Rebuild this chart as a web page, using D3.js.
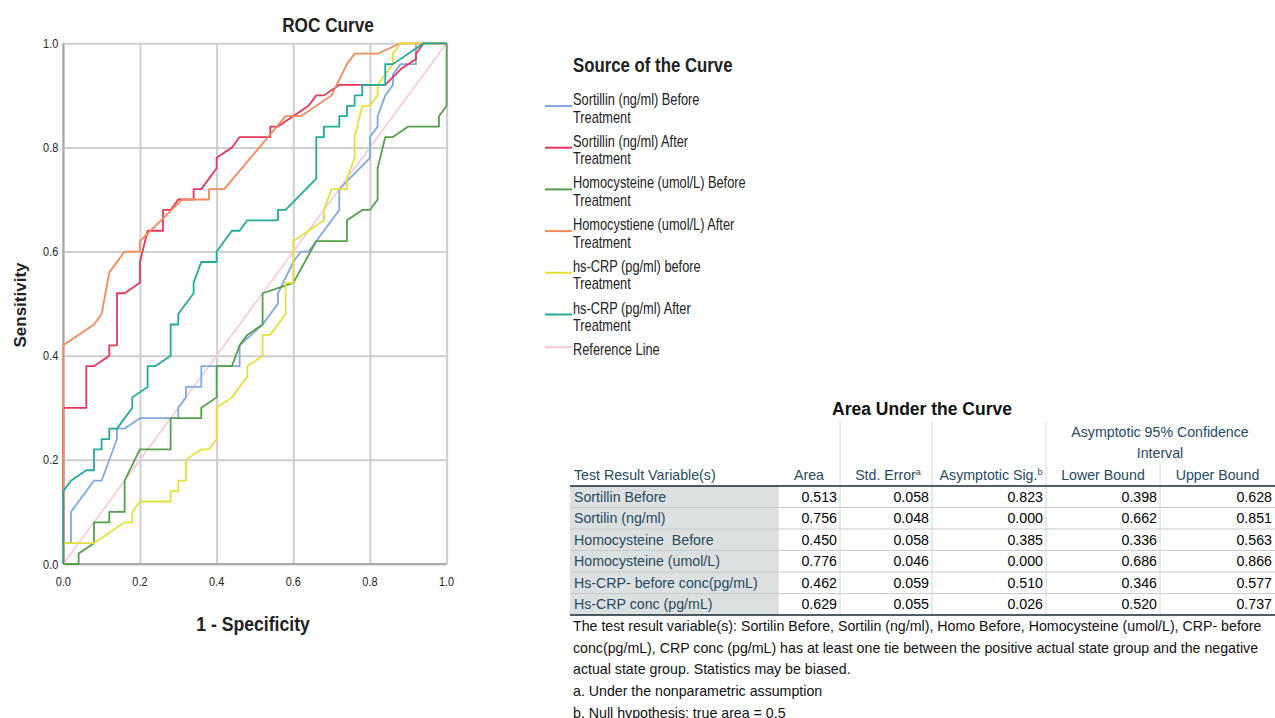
<!DOCTYPE html>
<html>
<head>
<meta charset="utf-8">
<script src="https://cdn.jsdelivr.net/npm/d3@7"></script>
<style>
  body { margin: 0; background: #fff; }
  svg { display: block; font-family: "Liberation Sans", Arial, sans-serif; }
  text { white-space: pre; }
</style>
</head>
<body>
<svg width="1275" height="718"></svg>
<script>
// ROC curve points, [1 - specificity, sensitivity]
const sortillinBefore = [[0,0],[0,0.04],[0.02,0.04],[0.02,0.10],[0.08,0.16],[0.10,0.16],[0.14,0.24],[0.14,0.26],[0.16,0.26],[0.20,0.28],[0.30,0.28],[0.30,0.30],[0.32,0.32],[0.32,0.34],[0.36,0.34],[0.36,0.38],[0.46,0.38],[0.46,0.42],[0.52,0.46],[0.56,0.50],[0.56,0.52],[0.60,0.58],[0.62,0.60],[0.64,0.60],[0.72,0.68],[0.72,0.72],[0.80,0.78],[0.80,0.82],[0.82,0.84],[0.82,0.86],[0.84,0.90],[0.86,0.92],[0.86,0.94],[0.88,0.96],[0.92,0.96],[0.92,1.0],[1,1]]
const sortillinAfter = [[0,0],[0,0.30],[0.06,0.30],[0.06,0.38],[0.08,0.38],[0.12,0.40],[0.12,0.42],[0.14,0.42],[0.14,0.52],[0.16,0.52],[0.20,0.54],[0.20,0.58],[0.22,0.64],[0.26,0.64],[0.26,0.68],[0.28,0.68],[0.30,0.70],[0.34,0.70],[0.34,0.72],[0.36,0.72],[0.40,0.76],[0.40,0.78],[0.44,0.80],[0.46,0.82],[0.54,0.82],[0.54,0.84],[0.56,0.84],[0.64,0.88],[0.66,0.90],[0.68,0.90],[0.72,0.92],[0.84,0.92],[0.88,0.95],[0.92,0.97],[0.92,0.98],[0.94,1.0],[1,1]]
const homoBefore = [[0,0],[0.04,0],[0.04,0.02],[0.08,0.04],[0.08,0.08],[0.12,0.08],[0.12,0.10],[0.16,0.10],[0.16,0.16],[0.20,0.22],[0.28,0.22],[0.28,0.28],[0.36,0.28],[0.36,0.30],[0.40,0.32],[0.40,0.38],[0.44,0.38],[0.46,0.42],[0.48,0.44],[0.52,0.46],[0.52,0.52],[0.56,0.53],[0.60,0.54],[0.66,0.62],[0.74,0.62],[0.74,0.66],[0.78,0.68],[0.80,0.68],[0.82,0.70],[0.82,0.76],[0.84,0.82],[0.86,0.82],[0.90,0.84],[0.98,0.84],[0.98,0.86],[1.0,0.88],[1.0,1.0]]
const homoAfter = [[0,0],[0,0.42],[0.08,0.46],[0.10,0.48],[0.12,0.56],[0.16,0.60],[0.20,0.60],[0.20,0.62],[0.31,0.70],[0.38,0.70],[0.38,0.72],[0.42,0.72],[0.58,0.86],[0.62,0.86],[0.70,0.90],[0.74,0.96],[0.76,0.98],[0.82,0.98],[0.88,1.0],[1,1]]
const crpBefore = [[0,0],[0,0.04],[0.08,0.04],[0.16,0.08],[0.18,0.08],[0.18,0.10],[0.20,0.12],[0.28,0.12],[0.28,0.14],[0.30,0.14],[0.30,0.16],[0.32,0.16],[0.32,0.20],[0.36,0.22],[0.38,0.22],[0.40,0.24],[0.40,0.30],[0.44,0.32],[0.48,0.36],[0.48,0.38],[0.52,0.40],[0.52,0.44],[0.54,0.44],[0.58,0.48],[0.58,0.54],[0.60,0.54],[0.60,0.62],[0.64,0.64],[0.68,0.66],[0.68,0.68],[0.70,0.72],[0.74,0.72],[0.74,0.74],[0.76,0.78],[0.76,0.82],[0.78,0.88],[0.80,0.88],[0.82,0.90],[0.82,0.92],[0.86,0.96],[0.86,0.98],[0.88,1.0],[1,1]]
const crpAfter = [[0,0],[0,0.14],[0.02,0.16],[0.06,0.18],[0.08,0.18],[0.08,0.22],[0.10,0.22],[0.10,0.24],[0.12,0.24],[0.12,0.26],[0.14,0.26],[0.18,0.30],[0.18,0.32],[0.22,0.34],[0.22,0.38],[0.24,0.38],[0.28,0.40],[0.28,0.46],[0.30,0.46],[0.30,0.48],[0.34,0.52],[0.34,0.54],[0.36,0.58],[0.40,0.58],[0.40,0.60],[0.44,0.64],[0.46,0.64],[0.48,0.66],[0.56,0.66],[0.56,0.68],[0.58,0.68],[0.66,0.74],[0.66,0.82],[0.68,0.82],[0.68,0.84],[0.72,0.84],[0.72,0.86],[0.74,0.86],[0.74,0.88],[0.76,0.88],[0.76,0.90],[0.78,0.90],[0.78,0.92],[0.84,0.92],[0.84,0.96],[0.86,0.96],[0.94,1.0],[1,1]]
const referenceLine = [[0,0],[1,1]]

const legendNames = [
  ['Sortillin (ng/ml) Before', 'Treatment'],
  ['Sortillin (ng/ml) After', 'Treatment'],
  ['Homocysteine (umol/L) Before', 'Treatment'],
  ['Homocystiene (umol/L) After', 'Treatment'],
  ['hs-CRP (pg/ml) before', 'Treatment'],
  ['hs-CRP (pg/ml) After', 'Treatment'],
  ['Reference Line']
]
const curveColors = ['#80a8e2', '#e5365c', '#54a04a', '#f5895a', '#e6e03a', '#22aa9c', '#f6c8d8']
const tickValues = [0, 0.2, 0.4, 0.6, 0.8, 1.0]

// AUC table
const tableVars = ['Sortillin Before', 'Sortilin (ng/ml)', 'Homocysteine  Before', 'Homocysteine (umol/L)', 'Hs-CRP- before conc(pg/mL)', 'Hs-CRP conc (pg/mL)']
const aucArea = ['0.513', '0.756', '0.450', '0.776', '0.462', '0.629']
const aucStdErr = ['0.058', '0.048', '0.058', '0.046', '0.059', '0.055']
const aucSig = ['0.823', '0.000', '0.385', '0.000', '0.510', '0.026']
const aucLower = ['0.398', '0.662', '0.336', '0.686', '0.346', '0.520']
const aucUpper = ['0.628', '0.851', '0.563', '0.866', '0.577', '0.737']
const footnotes = [
  'The test result variable(s): Sortilin Before, Sortilin (ng/ml), Homo Before, Homocysteine (umol/L), CRP- before',
  'conc(pg/mL), CRP conc (pg/mL) has at least one tie between the positive actual state group and the negative',
  'actual state group. Statistics may be biased.',
  'a. Under the nonparametric assumption',
  'b. Null hypothesis: true area = 0.5'
]

const svg = d3.select('svg')
const narrow = 0.84

// draws a horizontally condensed label, SPSS chart style
function condensed(parent, x, y, txt, size, weight, anchor, k) {
  return parent.append('text')
    .attr('transform', 'translate(' + x + ',' + y + ') scale(' + (k || narrow) + ',1)')
    .attr('font-size', size)
    .attr('font-weight', weight || 'normal')
    .attr('text-anchor', anchor || 'start')
    .attr('fill', '#222')
    .text(txt)
}

// ---- ROC chart
const x = d3.scaleLinear().domain([0, 1]).range([63.3, 446.6])
const y = d3.scaleLinear().domain([0, 1]).range([564, 43.3])

const plot = svg.append('g')

plot.append('g')
  .attr('transform', 'translate(0,' + y(0) + ')')
  .call(d3.axisBottom(x).tickValues(tickValues).tickSize(-(y(0) - y(1))).tickFormat(''))
  .call(g => g.select('.domain').remove())
  .selectAll('line').attr('stroke', '#cfcfcf').attr('stroke-width', 2)
plot.append('g')
  .attr('transform', 'translate(' + x(0) + ',0)')
  .call(d3.axisLeft(y).tickValues(tickValues).tickSize(-(x(1) - x(0))).tickFormat(''))
  .call(g => g.select('.domain').remove())
  .selectAll('line').attr('stroke', '#cfcfcf').attr('stroke-width', 2)

// axis lines
plot.append('line').attr('x1', x(0)).attr('x2', x(1)).attr('y1', y(0)).attr('y2', y(0))
  .attr('stroke', '#a8a8a8').attr('stroke-width', 2)
plot.append('line').attr('x1', x(0)).attr('x2', x(0)).attr('y1', y(0)).attr('y2', y(1))
  .attr('stroke', '#a8a8a8').attr('stroke-width', 2)

tickValues.forEach(t => {
  condensed(plot, x(0) - 5, y(t) + 4.5, d3.format('.1f')(t), 13, 'normal', 'end')
  condensed(plot, x(t), y(0) + 22, d3.format('.1f')(t), 13, 'normal', 'middle')
})

const line = d3.line().x(d => x(d[0])).y(d => y(d[1]))
const curves = [sortillinBefore, sortillinAfter, homoBefore, homoAfter, crpBefore, crpAfter]

plot.append('path').datum(referenceLine)
  .attr('d', line).attr('fill', 'none')
  .attr('stroke', curveColors[6]).attr('stroke-width', 1.6)

plot.selectAll('.curve')
  .data(curves)
  .enter()
  .append('path')
    .attr('class', 'curve')
    .attr('d', line)
    .attr('fill', 'none')
    .attr('stroke', (d, i) => curveColors[i])
    .attr('stroke-width', 1.8)
    .attr('stroke-linejoin', 'round')

condensed(svg, 328, 32, 'ROC Curve', 20, 'bold', 'middle', 0.86)
condensed(svg, 253, 631, '1 - Specificity', 21, 'bold', 'middle', 0.84)
svg.append('text')
  .attr('transform', 'translate(26,305) rotate(-90)')
  .attr('text-anchor', 'middle')
  .attr('font-size', 17)
  .attr('font-weight', 'bold')
  .attr('fill', '#222')
  .text('Sensitivity')

// ---- legend
const legend = svg.append('g')
condensed(legend, 573, 72, 'Source of the Curve', 20, 'bold', 'start', 0.84)
legendNames.forEach((lines, i) => {
  const base = 105 + i * 41.7
  const ly = lines.length > 1 ? base + 1 : base - 8
  legend.append('line')
    .attr('x1', 545).attr('x2', 572).attr('y1', ly).attr('y2', ly)
    .attr('stroke', curveColors[i]).attr('stroke-width', 2)
  lines.forEach((t, j) => condensed(legend, 573, base + j * 17.5, t, 16, 'normal', 'start', 0.8))
})

// ---- AUC table
const tbl = svg.append('g').attr('font-size', 14.2)
const colEdges = [570, 778, 840, 932, 1046, 1160, 1275]
const headColor = '#264a60'
const rowTop = 486
const rowH = 21.5

tbl.append('text').attr('x', 922).attr('y', 415).attr('text-anchor', 'middle')
  .attr('font-size', 17.5).attr('font-weight', 'bold').attr('fill', '#111')
  .text('Area Under the Curve')

// header separators
;[840, 932, 1046].forEach(cx => tbl.append('line')
  .attr('x1', cx).attr('x2', cx).attr('y1', 421).attr('y2', rowTop)
  .attr('stroke', '#d8d8d8'))
tbl.append('line').attr('x1', 1160).attr('x2', 1160).attr('y1', 464).attr('y2', rowTop).attr('stroke', '#d8d8d8')

tbl.append('text').attr('x', 1160).attr('y', 437).attr('text-anchor', 'middle').attr('fill', headColor).text('Asymptotic 95% Confidence')
tbl.append('text').attr('x', 1160).attr('y', 458).attr('text-anchor', 'middle').attr('fill', headColor).text('Interval')

const headers = ['Area', 'Std. Error', 'Asymptotic Sig.', 'Lower Bound', 'Upper Bound']
const headSup = ['', 'a', 'b', '', '']
tbl.append('text').attr('x', 574).attr('y', 480).attr('fill', headColor).text('Test Result Variable(s)')
headers.forEach((h, i) => {
  const t = tbl.append('text')
    .attr('x', (colEdges[i + 1] + colEdges[i + 2]) / 2 + (headSup[i] ? 2 : 0))
    .attr('y', 480).attr('text-anchor', 'middle').attr('fill', headColor)
  t.append('tspan').text(h)
  if (headSup[i]) t.append('tspan').attr('font-size', 9).attr('dy', -5).text(headSup[i])
})

// body
const rows = tableVars.map((v, i) => [v, aucArea[i], aucStdErr[i], aucSig[i], aucLower[i], aucUpper[i]])
tbl.append('rect').attr('x', colEdges[0]).attr('y', rowTop).attr('width', colEdges[1] - colEdges[0])
  .attr('height', rowH * rows.length).attr('fill', '#dde0e0')

rows.forEach((r, i) => {
  const top = rowTop + i * rowH
  if (i > 0) tbl.append('line').attr('x1', colEdges[0]).attr('x2', 1275)
    .attr('y1', top).attr('y2', top).attr('stroke', '#c9cccc')
  r.forEach((cell, j) => {
    if (j === 0) {
      tbl.append('text').attr('x', 574).attr('y', top + 15.5).attr('fill', headColor).text(cell)
    } else {
      tbl.append('text').attr('x', colEdges[j + 1] - 3).attr('y', top + 15.5)
        .attr('text-anchor', 'end').attr('fill', '#010205').text(cell)
    }
  })
})
colEdges.slice(1, 6).forEach(cx => tbl.append('line')
  .attr('x1', cx).attr('x2', cx).attr('y1', rowTop).attr('y2', rowTop + rowH * rows.length)
  .attr('stroke', '#d2d4d4'))
tbl.append('line').attr('x1', 570).attr('x2', 1275).attr('y1', rowTop).attr('y2', rowTop)
  .attr('stroke', '#152935').attr('stroke-width', 1.5)
tbl.append('line').attr('x1', 570).attr('x2', 1275).attr('y1', rowTop + rowH * rows.length).attr('y2', rowTop + rowH * rows.length)
  .attr('stroke', '#152935').attr('stroke-width', 1.5)

footnotes.forEach((f, i) => tbl.append('text')
  .attr('x', 573).attr('y', 631 + i * 21.7).attr('fill', '#111').text(f))
</script>
</body>
</html>
